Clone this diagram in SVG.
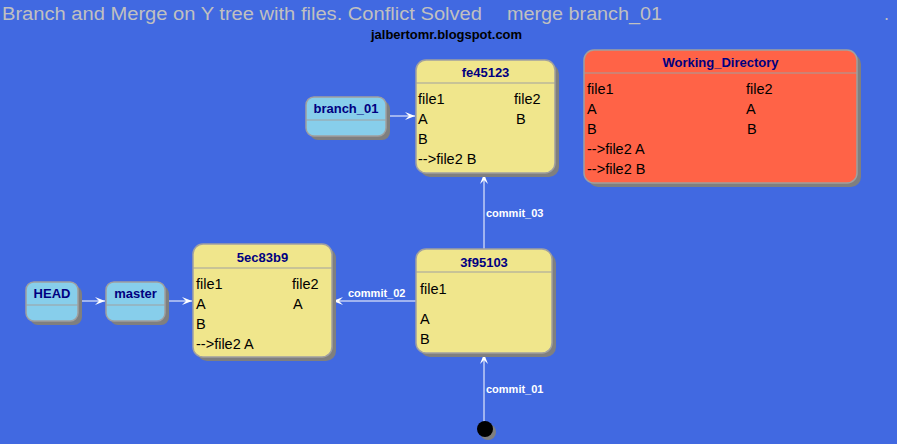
<svg xmlns="http://www.w3.org/2000/svg" width="897" height="444" viewBox="0 0 897 444">
<defs>
<style>
.t{font-family:"Liberation Sans",Arial,sans-serif;font-size:18px;fill:#C0C0C0}
.sub{font-family:"Liberation Sans",Arial,sans-serif;font-size:12px;font-weight:bold;fill:#000}
.hd{font-family:"Liberation Sans",Arial,sans-serif;font-size:13px;font-weight:bold;fill:#000080;text-anchor:middle}
.bd{font-family:"Liberation Sans",Arial,sans-serif;font-size:14.5px;fill:#000}
.lb{font-family:"Liberation Sans",Arial,sans-serif;font-size:11px;font-weight:bold;fill:#fff}
.sh{fill:#7f7f7f}
.st{fill:#F0E68C;stroke:#A0A0A0;stroke-width:1.5}
.rf{fill:#87CEEB;stroke:#A0A0A0;stroke-width:1.5}
.wd{fill:#FF6347;stroke:#A0A0A0;stroke-width:1.5}
.sep{stroke:#A0A0A0;stroke-width:1.2}
.ln{stroke:#fff;stroke-width:1;fill:none;marker-end:url(#ah)}
</style>
<marker id="ah" markerWidth="12" markerHeight="10" refX="10" refY="5" orient="auto" markerUnits="userSpaceOnUse">
<path d="M10,5 L0,1 L4,5 L0,9 Z" fill="#fff"/>
</marker>
</defs>
<rect width="897" height="444" fill="#4169E1"/>
<text class="t" x="2" y="20" textLength="480" lengthAdjust="spacingAndGlyphs">Branch and Merge on Y tree with files. Conflict Solved</text>
<text class="t" x="507" y="20" textLength="155" lengthAdjust="spacingAndGlyphs">merge branch_01</text>
<text class="t" x="884" y="20">.</text>
<text class="sub" x="371" y="39" textLength="151" lengthAdjust="spacingAndGlyphs">jalbertomr.blogspot.com</text>

<g id="connectors">
<line class="ln" x1="78" y1="301" x2="105" y2="301"/>
<line class="ln" x1="165" y1="301" x2="192" y2="301"/>
<line class="ln" x1="386" y1="116" x2="415" y2="116"/>
<line class="ln" x1="416" y1="301" x2="333" y2="301"/>
<text class="lb" x="348" y="297">commit_02</text>
<line class="ln" x1="484" y1="249" x2="484" y2="174"/>
<text class="lb" x="486" y="217">commit_03</text>
<line class="ln" x1="484" y1="421" x2="484" y2="354"/>
<text class="lb" x="486" y="393">commit_01</text>
</g>

<g id="fe45123">
<rect class="sh" x="420" y="64" width="139" height="113" rx="10"/>
<rect class="st" x="416" y="60" width="139" height="113" rx="10"/>
<line class="sep" x1="416" y1="83" x2="555" y2="83"/>
<text class="hd" x="485.5" y="77">fe45123</text>
<text class="bd" x="418" y="104">file1</text>
<text class="bd" x="514" y="104">file2</text>
<text class="bd" x="418" y="124">A</text>
<text class="bd" x="516" y="124">B</text>
<text class="bd" x="418" y="144">B</text>
<text class="bd" x="418" y="164">--&gt;file2 B</text>
</g>

<g id="branch_01">
<rect class="sh" x="310" y="101" width="80" height="39" rx="8"/>
<rect class="rf" x="306" y="97" width="80" height="39" rx="8"/>
<line class="sep" x1="306" y1="120" x2="386" y2="120"/>
<text class="hd" x="346" y="113">branch_01</text>
</g>

<g id="Working_Directory">
<rect class="sh" x="588" y="54" width="273" height="133" rx="10"/>
<rect class="wd" x="584" y="50" width="273" height="133" rx="10"/>
<line class="sep" x1="584" y1="73" x2="857" y2="73"/>
<text class="hd" x="720.5" y="67">Working_Directory</text>
<text class="bd" x="587" y="94">file1</text>
<text class="bd" x="746" y="94">file2</text>
<text class="bd" x="587" y="114">A</text>
<text class="bd" x="746" y="114">A</text>
<text class="bd" x="587" y="134">B</text>
<text class="bd" x="747" y="134">B</text>
<text class="bd" x="587" y="154">--&gt;file2 A</text>
<text class="bd" x="587" y="174">--&gt;file2 B</text>
</g>

<g id="5ec83b9">
<rect class="sh" x="197" y="248" width="139" height="113" rx="10"/>
<rect class="st" x="193" y="244" width="139" height="113" rx="10"/>
<line class="sep" x1="193" y1="268" x2="332" y2="268"/>
<text class="hd" x="262.5" y="262">5ec83b9</text>
<text class="bd" x="196" y="289">file1</text>
<text class="bd" x="292" y="289">file2</text>
<text class="bd" x="196" y="309">A</text>
<text class="bd" x="293" y="309">A</text>
<text class="bd" x="196" y="329">B</text>
<text class="bd" x="196" y="349">--&gt;file2 A</text>
</g>

<g id="3f95103">
<rect class="sh" x="420" y="253" width="136" height="104" rx="10"/>
<rect class="st" x="416" y="249" width="136" height="104" rx="10"/>
<line class="sep" x1="416" y1="272" x2="552" y2="272"/>
<text class="hd" x="484" y="267">3f95103</text>
<text class="bd" x="420" y="294">file1</text>
<text class="bd" x="420" y="324">A</text>
<text class="bd" x="420" y="344">B</text>
</g>

<g id="HEAD">
<rect class="sh" x="30" y="286" width="52" height="39" rx="8"/>
<rect class="rf" x="26" y="282" width="52" height="39" rx="8"/>
<line class="sep" x1="26" y1="305" x2="78" y2="305"/>
<text class="hd" x="52" y="298">HEAD</text>
</g>

<g id="master">
<rect class="sh" x="110" y="286" width="59" height="39" rx="8"/>
<rect class="rf" x="106" y="282" width="59" height="39" rx="8"/>
<line class="sep" x1="106" y1="305" x2="165" y2="305"/>
<text class="hd" x="135.5" y="298">master</text>
</g>

<g id="start">
<circle cx="488" cy="432" r="8" fill="#7f7f7f"/>
<circle cx="485" cy="429" r="8" fill="#000"/>
</g>
</svg>
